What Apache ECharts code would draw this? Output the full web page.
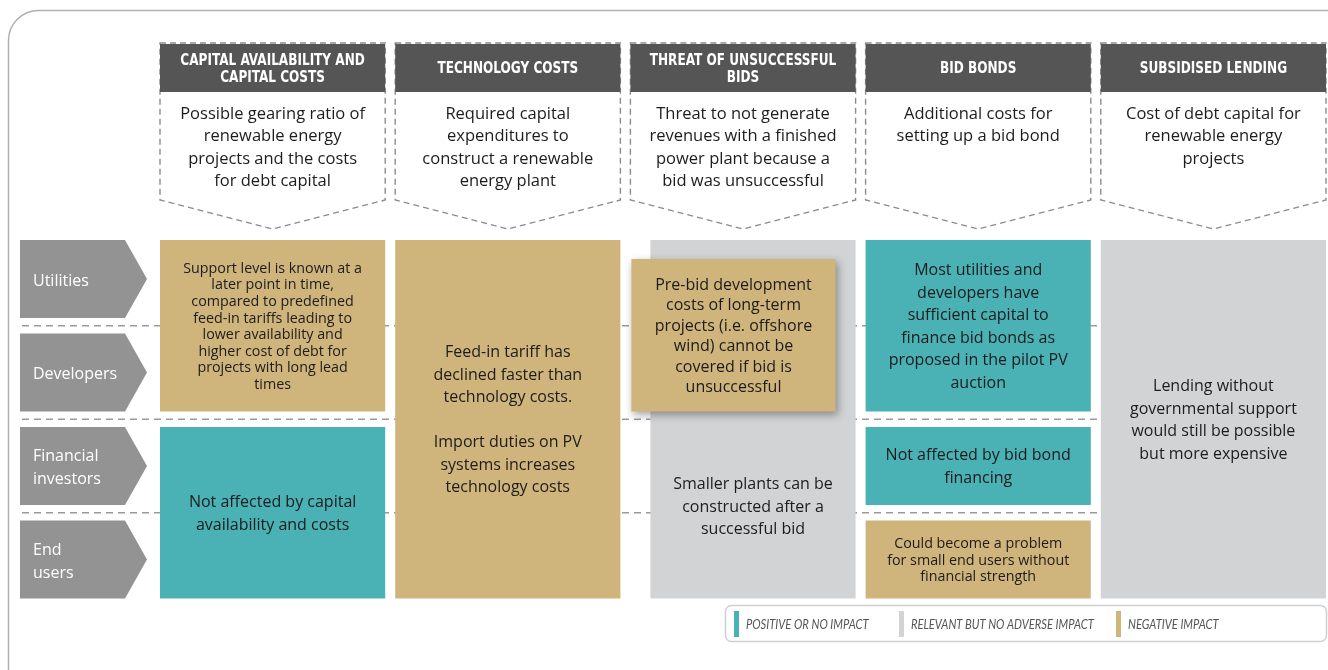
<!DOCTYPE html>
<html><head><meta charset="utf-8">
<script src="https://cdn.jsdelivr.net/npm/echarts@6/dist/echarts.min.js"></script>
<style>html,body{margin:0;padding:0;background:#fff}#c{width:1328px;height:670px}</style>
</head><body><div id="c"></div>
<script>
// ---------- data ----------
const columns = ['CAPITAL AVAILABILITY AND\nCAPITAL COSTS', 'TECHNOLOGY COSTS', 'THREAT OF UNSUCCESSFUL\nBIDS', 'BID BONDS', 'SUBSIDISED LENDING'];
const descriptions = [
  'Possible gearing ratio of\nrenewable energy\nprojects and the costs\nfor debt capital',
  'Required capital\nexpenditures to\nconstruct a renewable\nenergy plant',
  'Threat to not generate\nrevenues with a finished\npower plant because a\nbid was unsuccessful',
  'Additional costs for\nsetting up a bid bond',
  'Cost of debt capital for\nrenewable energy\nprojects'
];
const stakeholders = ['Utilities', 'Developers', 'Financial\ninvestors', 'End\nusers'];
const impactNames = ['POSITIVE OR NO IMPACT', 'RELEVANT BUT NO ADVERSE IMPACT', 'NEGATIVE IMPACT'];
// impact: 0 positive, 1 relevant, 2 negative
const cellColumn  = [0, 0, 1, 2, 2, 3, 3, 3, 4];
const cellFromRow = [0, 2, 0, 0, 0, 0, 2, 3, 0];
const cellToRow   = [1, 3, 3, 3, 1, 1, 2, 3, 3];
const cellImpact  = [2, 0, 2, 1, 2, 0, 0, 2, 1];
const cellTexts = [
  'Support level is known at a\nlater point in time,\ncompared to predefined\nfeed-in tariffs leading to\nlower availability and\nhigher cost of debt for\nprojects with long lead\ntimes',
  'Not affected by capital\navailability and costs',
  'Feed-in tariff has\ndeclined faster than\ntechnology costs.\n\nImport duties on PV\nsystems increases\ntechnology costs',
  'Smaller plants can be\nconstructed after a\nsuccessful bid',
  'Pre-bid development\ncosts of long-term\nprojects (i.e. offshore\nwind) cannot be\ncovered if bid is\nunsuccessful',
  'Most utilities and\ndevelopers have\nsufficient capital to\nfinance bid bonds as\nproposed in the pilot PV\nauction',
  'Not affected by bid bond\nfinancing',
  'Could become a problem\nfor small end users without\nfinancial strength',
  'Lending without\ngovernmental support\nwould still be possible\nbut more expensive'
];

// ---------- styling / layout ----------
const impactColors = ['#4ab1b5', '#d2d3d5', '#cfb47c'];
const BODY = "'Open Sans', Lato, sans-serif";
const HEAD = "'DejaVu Sans Condensed', 'DejaVu Sans', sans-serif";
const COL_GAP = 10, ROW_GAP = 15.5;
const GAP_UNITS = 10 / 235.2;
const cellLayout = {
  0: {font: 14.3, lh: 16.6},
  3: {l: 20, ty: 87},
  4: {l: 1, r: 20, t: 19, lh: 20.5, shadow: true},
  7: {font: 14.3, lh: 16.6}
};

const chart = echarts.init(document.getElementById('c'), null, {renderer: 'canvas'});

function cellRender(params, api) {
  const i = params.dataIndex;
  const c = api.value(0), r0 = api.value(1), r1 = api.value(2), imp = api.value(3);
  const sz = api.size([1, 1]);
  const bw = sz[0], bh = sz[1];
  const p0 = api.coord([c, r0]), p1 = api.coord([c, r1]);
  const L = cellLayout[i] || {};
  let x = p0[0] - bw / 2 + (L.l || 0);
  let x2 = p0[0] - bw / 2 + bw - COL_GAP - (L.r || 0);
  let y = p0[1] - bh / 2 + (L.t || 0);
  let y2 = p1[1] + bh / 2 - ROW_GAP;
  const fs = L.font || 16, lh = L.lh || 22.5;
  const rectStyle = {fill: impactColors[imp]};
  if (L.shadow) {
    rectStyle.shadowBlur = 8; rectStyle.shadowOffsetX = 2; rectStyle.shadowOffsetY = 3;
    rectStyle.shadowColor = 'rgba(0,0,0,0.35)';
  }
  return {
    type: 'group',
    children: [
      {type: 'rect', shape: {x: x, y: y, width: x2 - x, height: y2 - y}, style: rectStyle},
      {type: 'text', style: {
        text: cellTexts[i], x: (x + x2) / 2, y: (y + y2) / 2 + (L.ty || 0) + 1,
        align: 'center', verticalAlign: 'middle',
        font: fs + 'px ' + BODY, lineHeight: lh, fill: '#1c1c1c'
      }}
    ]
  };
}

function headerRender(params, api) {
  const i = api.value(0);
  const bw = api.size([1, 1])[0];
  const cx0 = api.coord([i, 0])[0];
  const l = cx0 - bw / 2, r = l + bw - COL_GAP, cx = (l + r) / 2;
  return {
    type: 'group',
    children: [
      {type: 'polygon', shape: {points: [[l, 43], [r, 43], [r, 200], [cx, 229], [l, 200]]},
        style: {fill: 'none', stroke: '#8c8c8c', lineWidth: 1.4, lineDash: [6, 4]}},
      {type: 'rect', shape: {x: l, y: 44, width: r - l, height: 48}, style: {fill: '#555555'}},
      {type: 'text', x: cx, y: 69, scaleX: 0.84, style: {text: columns[i], x: 0, y: 0, align: 'center', verticalAlign: 'middle',
        font: 'bold 16px ' + HEAD, lineHeight: 17, fill: '#ffffff'}},
      {type: 'text', style: {text: descriptions[i], x: cx, y: 103, align: 'center', verticalAlign: 'top',
        font: '16.5px ' + BODY, lineHeight: 22.5, fill: '#1c1c1c'}}
    ]
  };
}

function rowLabelRender(params, api) {
  const r = api.value(1);
  const bh = api.size([1, 1])[1];
  const cy = api.coord([0, r])[1];
  const t = cy - bh / 2, b = t + bh - ROW_GAP, m = (t + b) / 2;
  return {
    type: 'group',
    children: [
      {type: 'polygon', shape: {points: [[20, t], [125, t], [147, m], [125, b], [20, b]]}, style: {fill: '#939393'}},
      {type: 'text', style: {text: stakeholders[r], x: 33, y: m + 2, align: 'left', verticalAlign: 'middle',
        font: '16px ' + BODY, lineHeight: 23, fill: '#ffffff'}}
    ]
  };
}

function separatorRender(params, api) {
  const r = api.value(1);
  const sz = api.size([1, 1]);
  const bw = sz[0], bh = sz[1];
  const yA = api.coord([0, r])[1] + bh / 2 - ROW_GAP;
  const yB = api.coord([0, r + 1])[1] - bh / 2;
  const y = (yA + yB) / 2;
  const xEnd = api.coord([4, 0])[0] - bw / 2;
  return {type: 'line', shape: {x1: 22, y1: y, x2: xEnd, y2: y},
    style: {stroke: '#9a9a9a', lineWidth: 1.5, lineDash: [7, 5]}};
}

const legendX = [734, 899, 1116];
const legendGraphics = [
  {type: 'rect', shape: {x: 725.5, y: 605.5, width: 601, height: 36, r: 6},
    style: {fill: '#fff', stroke: '#d0d0d0', lineWidth: 1.5}, z: 10}
];
impactNames.forEach((n, k) => {
  legendGraphics.push({type: 'rect', shape: {x: legendX[k], y: 611, width: 5, height: 26}, style: {fill: impactColors[k]}, z: 11});
  legendGraphics.push({type: 'text', x: legendX[k] + 12, y: 624.5, scaleX: 0.86,
    style: {text: n, font: "italic 13px Lato, sans-serif", fill: '#555', verticalAlign: 'middle', align: 'left'}, z: 11});
});

chart.setOption({
  animation: false,
  backgroundColor: '#fff',
  grid: {left: 160, top: 240, width: 1166, height: 374},
  xAxis: {type: 'value', min: -0.5, max: 4.5 - GAP_UNITS, show: false},
  yAxis: {type: 'category', data: stakeholders, inverse: true, show: false},
  graphic: [
    {type: 'rect', shape: {x: 8.5, y: 10.5, width: 1400, height: 700, r: 30},
      style: {fill: 'none', stroke: '#b0b0b0', lineWidth: 1.5}, z: -10}
  ].concat(legendGraphics),
  series: [
    {type: 'custom', z: 1, renderItem: separatorRender, data: [[0, 0], [0, 1], [0, 2]]},
    {type: 'custom', z: 2, renderItem: rowLabelRender, data: stakeholders.map((s, r) => [0, r])},
    {type: 'custom', z: 2, renderItem: headerRender, data: columns.map((s, i) => [i, 0])},
    {type: 'custom', z: 3, renderItem: cellRender,
      data: cellColumn.map((c, i) => [c, cellFromRow[i], cellToRow[i], cellImpact[i]])}
  ]
});
</script></body></html>
